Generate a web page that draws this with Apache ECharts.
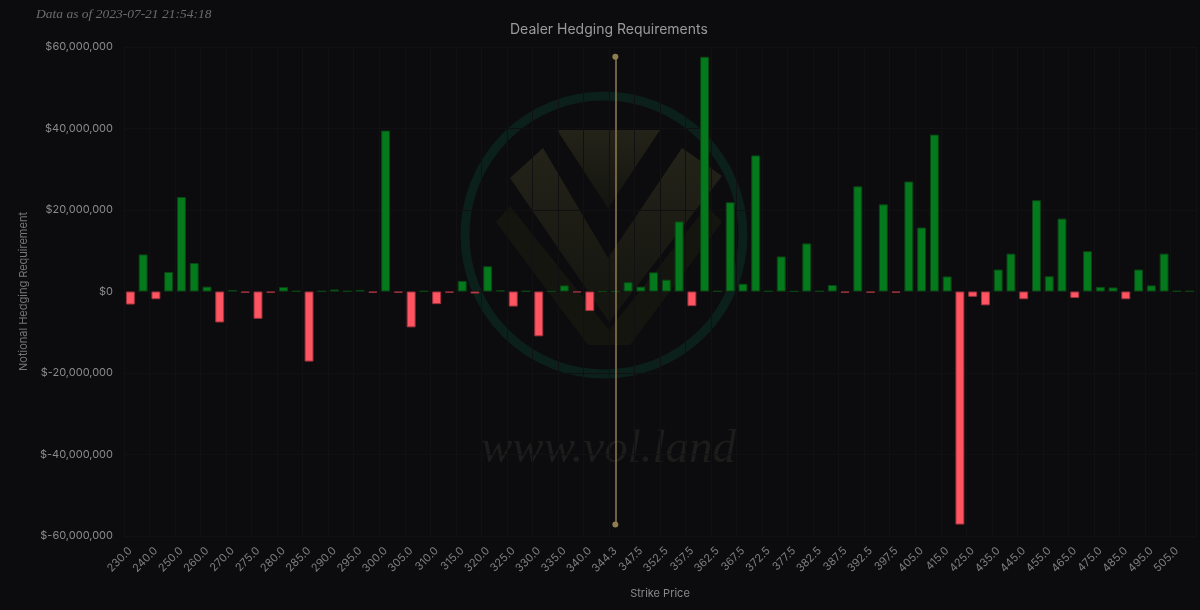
<!DOCTYPE html>
<html>
<head>
<meta charset="utf-8">
<script src="https://cdn.jsdelivr.net/npm/echarts@6/dist/echarts.min.js"></script>
<style>
  html, body { margin: 0; padding: 0; background: #0c0c0e; }
  #main { width: 1200px; height: 610px; }
</style>
</head>
<body>
<div id="main"></div>
<script>
// strikes (category axis)
let strikes = ['230.0','235.0','240.0','245.0','250.0','255.0','260.0','265.0','270.0','272.5',
    '275.0','277.5','280.0','282.5','285.0','287.5','290.0','292.5','295.0','297.5',
    '300.0','302.5','305.0','307.5','310.0','312.5','315.0','317.5','320.0','322.5',
    '325.0','327.5','330.0','332.5','335.0','337.5','340.0','342.5','344.3','345.0',
    '347.5','350.0','352.5','355.0','357.5','360.0','362.5','365.0','367.5','370.0',
    '372.5','375.0','377.5','380.0','382.5','385.0','387.5','390.0','392.5','395.0',
    '397.5','400.0','405.0','410.0','415.0','420.0','425.0','430.0','435.0','440.0',
    '445.0','450.0','455.0','460.0','465.0','470.0','475.0','480.0','485.0','490.0',
    '495.0','500.0','505.0','510.0'];

// notional hedging requirement, millions of $
let hedgeM = [-3.2, 9.1, -1.9, 4.8, 23.2, 7.0, 1.2, -7.6, 0.35, -0.3,
    -6.7, -0.3, 1.1, 0.1, -17.2, 0.1, 0.5, 0.1, 0.4, -0.3,
    39.5, -0.3, -8.8, 0.1, -3.1, -0.3, 2.6, -0.5, 6.2, 0.3,
    -3.7, 0.1, -11.0, 0.05, 1.5, -0.2, -4.8, 0, 0, 2.3,
    1.2, 4.7, 2.9, 17.2, -3.6, 57.6, 0.1, 21.9, 1.9, 33.4,
    0.1, 8.6, 0.05, 11.8, 0.1, 1.6, -0.3, 25.8, -0.3, 21.4,
    -0.3, 27.0, 15.7, 38.5, 3.7, -57.2, -1.3, -3.4, 5.4, 9.3,
    -1.9, 22.4, 3.75, 17.9, -1.6, 9.9, 1.15, 1.0, -1.9, 5.4,
    1.5, 9.3, 0.1, 0.1];

let spotStrike = '344.3';
let yTicks = [-60000000, 60000000, 20000000]; // min, max, step

let hedge = hedgeM.map(function (v) { return Math.round(v * 1e6); });

let myChart = echarts.init(document.getElementById('main'));

let barData = hedge.map(function (v) {
    let up = v >= 0;
    return {
        value: v,
        itemStyle: {
            color: up ? '#047a1c' : '#ff5562',
            borderColor: up ? '#0a4514' : '#9e323c',
            borderWidth: 1
        }
    };
});

let hiVal = Math.max.apply(null, hedge);
let loVal = Math.min.apply(null, hedge);

function money(v) {
    return '$' + v.toLocaleString('en-US');
}

// watermark (vol.land logo)
let olive = new echarts.graphic.LinearGradient(0, 0, 0, 1, [
    {offset: 0, color: '#232319'},
    {offset: 1, color: '#141410'}
]);

let option = {
    backgroundColor: '#0c0c0e',
    title: {
        text: 'Dealer Hedging Requirements',
        left: 505,
        top: 18,
        textStyle: {
            color: '#9a9a9a',
            fontSize: 14,
            fontWeight: 'normal',
            fontFamily: 'Inter'
        }
    },
    graphic: [
        {
            type: 'text', left: 36, top: 7, z: 5,
            style: {
                text: 'Data as of 2023-07-21 21:54:18',
                fill: '#6c6c6c',
                font: 'italic 13.5px "Liberation Serif"'
            }
        },
        {
            type: 'circle', z: 0, silent: true,
            shape: {cx: 604, cy: 235, r: 139},
            style: {fill: 'none', stroke: '#0b1f1b', lineWidth: 9}
        },
        {
            type: 'polygon', z: 0, silent: true,
            shape: {points: [[557, 130], [660, 130], [608, 208]]},
            style: {fill: olive}
        },
        {
            type: 'polygon', z: 0, silent: true,
            shape: {points: [[510, 178], [543, 148], [608, 258], [682, 148], [722, 176], [609, 322]]},
            style: {fill: olive}
        },
        {
            type: 'polygon', z: 0, silent: true,
            shape: {points: [[496, 222], [510, 206], [609, 330], [707, 206], [722, 222], [630, 345], [588, 345]]},
            style: {fill: '#15150f'}
        },
        {
            type: 'text', z: 0, silent: true,
            left: 481, top: 426,
            style: {
                text: 'www.vol.land',
                fill: '#1c1c1b',
                font: 'italic 47px "Liberation Serif"'
            }
        }
    ],
    grid: {
        left: 124,
        right: 4,
        top: 47,
        bottom: 74
    },
    xAxis: {
        type: 'category',
        data: strikes,
        name: 'Strike Price',
        nameLocation: 'middle',
        nameGap: 52,
        nameTextStyle: {color: '#8a8a8a', fontSize: 11, fontFamily: 'Inter'},
        axisLine: {onZero: false, show: false},
        axisTick: {show: false},
        axisLabel: {
            interval: 1,
            rotate: 45,
            margin: 13,
            color: '#7e7e7e',
            fontSize: 11,
            fontFamily: 'Inter'
        },
        splitLine: {
            show: true,
            interval: 1,
            lineStyle: {color: '#111113', width: 1}
        }
    },
    yAxis: {
        type: 'value',
        min: yTicks[0],
        max: yTicks[1],
        interval: yTicks[2],
        name: 'Notional Hedging Requirement',
        nameLocation: 'middle',
        nameGap: 86,
        nameTextStyle: {color: '#777777', fontSize: 11, fontFamily: 'Inter'},
        axisLine: {show: false},
        axisTick: {show: false},
        axisLabel: {
            color: '#8a8a8a',
            fontSize: 11,
            margin: 11,
            fontFamily: 'Inter',
            formatter: money
        },
        splitLine: {
            show: true,
            lineStyle: {color: '#111113', width: 1}
        }
    },
    series: [
        {
            name: 'Hedging',
            type: 'bar',
            barWidth: '70%',
            data: barData,
            markLine: {
                silent: true,
                symbol: ['circle', 'circle'],
                symbolSize: 6,
                label: {show: false},
                lineStyle: {color: '#8f7c4f', width: 1.5, type: 'solid'},
                itemStyle: {color: '#a08a55'},
                data: [
                    [
                        {coord: [spotStrike, hiVal]},
                        {coord: [spotStrike, loVal]}
                    ]
                ]
            }
        }
    ]
};

myChart.setOption(option);
</script>
</body>
</html>
